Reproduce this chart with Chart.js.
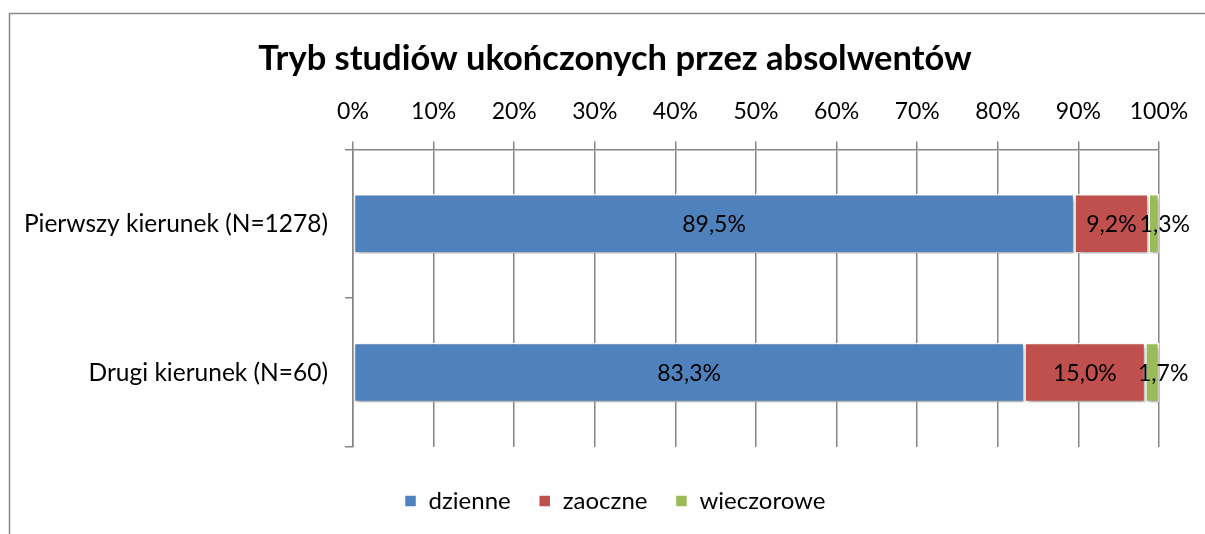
<!DOCTYPE html>
<html>
<head>
<meta charset="utf-8">
<script src="https://cdn.jsdelivr.net/npm/chart.js@4/dist/chart.umd.min.js"></script>
<style>
html,body{margin:0;padding:0;background:#fff;}
#wrap{position:relative;width:1205px;height:534px;}
</style>
</head>
<body>
<div id="wrap"><canvas id="c" width="1205" height="534"></canvas></div>
<script>
const categories = ['Pierwszy kierunek (N=1278)', 'Drugi kierunek (N=60)'];
const seriesNames = ['dzienne', 'zaoczne', 'wieczorowe'];
const dzienne = [89.5, 83.3];
const zaoczne = [9.2, 15.0];
const wieczorowe = [1.3, 1.7];
const xTicks = [0, 10, 20, 30, 40, 50, 60, 70, 80, 90, 100];
const colors = ['#4F81BD', '#C0504D', '#9BBB59'];
const labelShift = [0, 0, 11];   // horizontal nudge of value labels per series (px)

const FONT = 'Lato, "Open Sans", sans-serif';
const GRID = '#868686';

const frame = {
  id: 'frame',
  beforeDraw(chart) {
    const ctx = chart.ctx;
    ctx.save();
    ctx.fillStyle = '#fff';
    ctx.fillRect(0, 0, chart.width, chart.height);
    ctx.strokeStyle = GRID;
    ctx.lineWidth = 1.5;
    ctx.beginPath();
    ctx.moveTo(9.5, 600);
    ctx.lineTo(9.5, 13.5);
    ctx.lineTo(1300, 13.5);
    ctx.stroke();
    ctx.restore();
  }
};

// centre title and legend over the whole frame rather than the padded box
const centre = {
  id: 'centre',
  afterLayout(chart) {
    if (chart.titleBlock) chart.titleBlock.left = 71;
    if (chart.legend) chart.legend.left = 71;
  }
};

const shadow = {
  id: 'shadow',
  beforeDatasetsDraw(chart) {
    const ctx = chart.ctx;
    ctx.save();
    ctx.shadowColor = 'rgba(0,0,0,0.35)';
    ctx.shadowBlur = 5;
    ctx.shadowOffsetX = 2;
    ctx.shadowOffsetY = 3;
  },
  afterDatasetsDraw(chart) {
    chart.ctx.restore();
  }
};

const labels = {
  id: 'vlabels',
  afterDatasetsDraw(chart) {
    const ctx = chart.ctx;
    ctx.save();
    ctx.font = '23px ' + FONT;
    ctx.fillStyle = '#000';
    ctx.textAlign = 'center';
    ctx.textBaseline = 'middle';
    chart.data.datasets.forEach((ds, di) => {
      const meta = chart.getDatasetMeta(di);
      meta.data.forEach((bar, i) => {
        const v = ds.data[i];
        const cx = (bar.x + bar.base) / 2 + labelShift[di];
        ctx.fillText(v.toFixed(1).replace('.', ',') + '%', cx, bar.y + 1);
      });
    });
    ctx.restore();
  }
};

const chart = new Chart(document.getElementById('c'), {
  type: 'bar',
  data: {
    labels: categories,
    datasets: [
      { label: seriesNames[0], data: dzienne, backgroundColor: colors[0] },
      { label: seriesNames[1], data: zaoczne, backgroundColor: colors[1] },
      { label: seriesNames[2], data: wieczorowe, backgroundColor: colors[2] }
    ].map(d => Object.assign(d, {
      borderColor: '#ffffff', borderWidth: 1.5, borderSkipped: false,
      barPercentage: 0.4, categoryPercentage: 1.0
    }))
  },
  options: {
    indexAxis: 'y',
    responsive: false,
    animation: false,
    devicePixelRatio: 1,
    layout: { padding: { left: 0, right: 46, top: 0, bottom: 11 } },
    plugins: {
      title: {
        display: true,
        text: 'Tryb studiów ukończonych przez absolwentów',
        font: { family: FONT, size: 34.5, weight: 'bold' },
        color: '#000',
        padding: { top: 38, bottom: 1 }
      },
      legend: {
        position: 'bottom',
        title: { display: true, text: '', font: { size: 10 }, padding: { top: 2, bottom: 0 } },
        labels: {
          font: { family: FONT, size: 24 },
          color: '#000',
          boxWidth: 12, boxHeight: 12,
          padding: 28
        }
      },
      tooltip: { enabled: false }
    },
    scales: {
      x: {
        position: 'top',
        stacked: true,
        min: 0, max: 100,
        afterBuildTicks(s) { s.ticks = xTicks.map(v => ({ value: v })); },
        afterFit(s) { s.height = 69; },
        ticks: {
          font: { family: FONT, size: 23 },
          color: '#000',
          padding: 16,
          callback: v => v + '%'
        },
        grid: { color: GRID, lineWidth: 1.5, tickLength: 8, drawTicks: true },
        border: { display: true, color: GRID, width: 1.5 }
      },
      y: {
        stacked: true,
        afterFit(s) { s.width = 353; },
        ticks: {
          font: { family: FONT, size: 24.5 },
          color: '#000',
          padding: 17
        },
        grid: { drawOnChartArea: false, drawTicks: true, tickLength: 8, offset: true, color: GRID, lineWidth: 1.5 },
        border: { display: true, color: GRID, width: 1.5 }
      }
    }
  },
  plugins: [frame, centre, shadow, labels]
});
</script>
</body>
</html>
